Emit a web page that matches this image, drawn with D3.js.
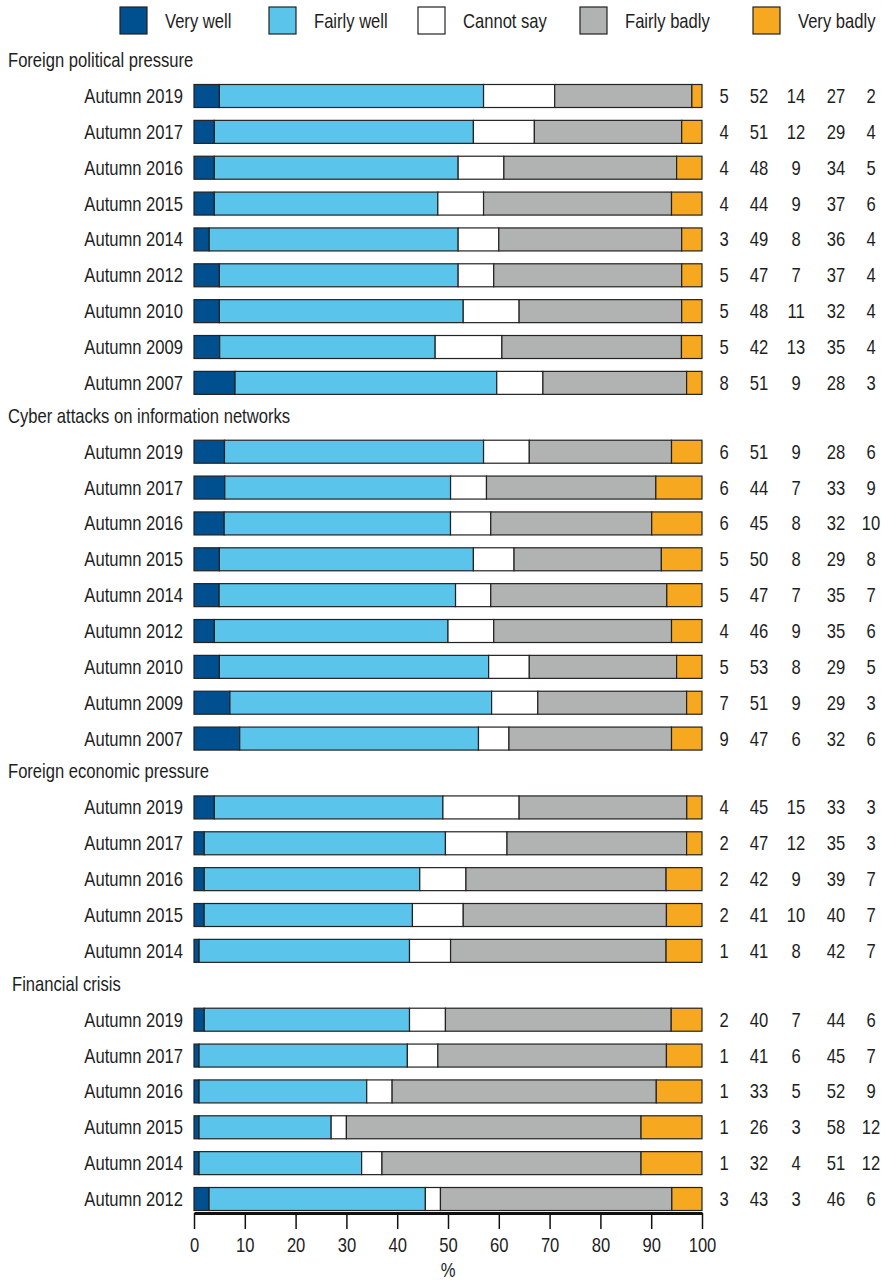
<!DOCTYPE html>
<html>
<head>
<meta charset="utf-8">
<script src="https://cdn.jsdelivr.net/npm/d3@7"></script>
<style>
  html, body { margin: 0; padding: 0; background: #fff; }
  svg text { font-family: 'Liberation Sans', Arial, sans-serif; fill: #1e1e1e; }
</style>
</head>
<body>
<svg id="chart" width="881" height="1282"></svg>
<script>
// ---- Data ----
const answers = ['Very well', 'Fairly well', 'Cannot say', 'Fairly badly', 'Very badly'];
const colors = ['#00508f', '#5bc4ea', '#ffffff', '#b1b2b2', '#f6a821'];

const topics = [
  'Foreign political pressure',
  'Cyber attacks on information networks',
  'Foreign economic pressure',
  'Financial crisis'
];

const yearsPolitical = ['Autumn 2019', 'Autumn 2017', 'Autumn 2016', 'Autumn 2015', 'Autumn 2014', 'Autumn 2012', 'Autumn 2010', 'Autumn 2009', 'Autumn 2007'];
const politicalPressure = [
  [5, 52, 14, 27, 2], [4, 51, 12, 29, 4], [4, 48, 9, 34, 5], [4, 44, 9, 37, 6], [3, 49, 8, 36, 4],
  [5, 47, 7, 37, 4], [5, 48, 11, 32, 4], [5, 42, 13, 35, 4], [8, 51, 9, 28, 3]
];

const yearsCyber = ['Autumn 2019', 'Autumn 2017', 'Autumn 2016', 'Autumn 2015', 'Autumn 2014', 'Autumn 2012', 'Autumn 2010', 'Autumn 2009', 'Autumn 2007'];
const cyberAttacks = [
  [6, 51, 9, 28, 6], [6, 44, 7, 33, 9], [6, 45, 8, 32, 10], [5, 50, 8, 29, 8], [5, 47, 7, 35, 7],
  [4, 46, 9, 35, 6], [5, 53, 8, 29, 5], [7, 51, 9, 29, 3], [9, 47, 6, 32, 6]
];

const yearsEconomic = ['Autumn 2019', 'Autumn 2017', 'Autumn 2016', 'Autumn 2015', 'Autumn 2014'];
const economicPressure = [
  [4, 45, 15, 33, 3], [2, 47, 12, 35, 3], [2, 42, 9, 39, 7], [2, 41, 10, 40, 7], [1, 41, 8, 42, 7]
];

const yearsFinancial = ['Autumn 2019', 'Autumn 2017', 'Autumn 2016', 'Autumn 2015', 'Autumn 2014', 'Autumn 2012'];
const financialCrisis = [
  [2, 40, 7, 44, 6], [1, 41, 6, 45, 7], [1, 33, 5, 52, 9], [1, 26, 3, 58, 12], [1, 32, 4, 51, 12], [3, 43, 3, 46, 6]
];

const xTicks = [0, 10, 20, 30, 40, 50, 60, 70, 80, 90, 100];

// ---- Build rows ----
const groupYears = [yearsPolitical, yearsCyber, yearsEconomic, yearsFinancial];
const groupValues = [politicalPressure, cyberAttacks, economicPressure, financialCrisis];
const GAP = 0.92; // extra slot between topic blocks

const rows = [];
let rowIdx = 0;
groupValues.forEach((vals, gi) => {
  vals.forEach((v, ri) => {
    const r = { group: gi, first: ri === 0, label: groupYears[gi][ri], values: v, slot: rowIdx + gi * GAP };
    answers.forEach((a, k) => { r[a] = v[k]; });
    rows.push(r);
    rowIdx++;
  });
});

// condensed look: squeeze the regular face horizontally
const SX = 0.83;
const FS = 20;
const place = (sel, fx, fy) => sel.attr('transform', (d, i) => `translate(${fx(d, i)},${fy(d, i)}) scale(${SX},1)`);

// ---- Scales ----
const svg = d3.select('#chart');
const x = d3.scaleLinear().domain([0, 100]).range([194, 702]);
const lastSlot = d3.max(rows, d => d.slot);
const y = d3.scaleLinear().domain([0, lastSlot]).range([96, 1199]);
const barH = 23;
const color = d3.scaleOrdinal().domain(answers).range(colors);

// ---- Legend ----
const legendX = [120, 269, 418, 580, 753];
const legend = svg.append('g').selectAll('g').data(answers).join('g')
  .attr('transform', (d, i) => `translate(${legendX[i]},7)`);
legend.append('rect')
  .attr('width', 27).attr('height', 27)
  .attr('fill', d => color(d))
  .attr('stroke', '#222').attr('stroke-width', 1.2);
legend.append('text')
  .call(place, () => 45, () => 14)
  .attr('dy', '0.35em')
  .attr('font-size', FS)
  .text(d => d);

// ---- Topic titles ----
svg.append('g').selectAll('text')
  .data(rows.filter(d => d.first))
  .join('text')
  .call(place, d => d.group === 3 ? 12 : 8, d => y(d.slot) - 36)
  .attr('dy', '0.35em')
  .attr('font-size', FS)
  .text(d => topics[d.group]);

// ---- Row labels ----
svg.append('g').selectAll('text')
  .data(rows).join('text')
  .call(place, () => 183, d => y(d.slot))
  .attr('dy', '0.35em')
  .attr('text-anchor', 'end')
  .attr('font-size', FS)
  .text(d => d.label);

// ---- Stacked bars (normalised to 100 %) ----
const stack = d3.stack().keys(answers).offset(d3.stackOffsetExpand);
const series = stack(rows);

svg.append('g').selectAll('g')
  .data(series).join('g')
  .attr('fill', d => color(d.key))
  .selectAll('rect')
  .data(d => d).join('rect')
  .attr('x', d => x(d[0] * 100))
  .attr('width', d => x(d[1] * 100) - x(d[0] * 100))
  .attr('y', d => y(d.data.slot) - barH / 2)
  .attr('height', barH)
  .attr('stroke', '#222')
  .attr('stroke-width', 1.2);

// ---- Value columns ----
const colX = [724, 759, 796, 836, 871];
const valueRows = svg.append('g').selectAll('g')
  .data(rows).join('g')
  .attr('transform', d => `translate(0,${y(d.slot)})`);
valueRows.selectAll('text')
  .data(d => d.values).join('text')
  .call(place, (d, i) => colX[i], () => 0)
  .attr('dy', '0.35em')
  .attr('text-anchor', 'middle')
  .attr('font-size', FS)
  .text(d => d);

// ---- X axis ----
const axisY = 1213;
const xAxis = svg.append('g')
  .attr('transform', `translate(0,${axisY})`)
  .call(d3.axisBottom(x).tickValues(xTicks).tickSize(16).tickSizeOuter(0).tickPadding(9));
xAxis.select('.domain').attr('stroke', '#111').attr('stroke-width', 3);
xAxis.selectAll('.tick line').attr('stroke', '#111').attr('stroke-width', 1.5);
xAxis.selectAll('.tick text')
  .attr('font-size', FS)
  .attr('transform', `scale(${SX},1)`)
  .style('font-family', "'Liberation Sans', Arial, sans-serif")
  .attr('fill', '#1e1e1e');

svg.append('text')
  .call(place, () => (x(0) + x(100)) / 2, () => 1270)
  .attr('dy', '0.35em')
  .attr('text-anchor', 'middle')
  .attr('font-size', FS)
  .text('%');
</script>
</body>
</html>
